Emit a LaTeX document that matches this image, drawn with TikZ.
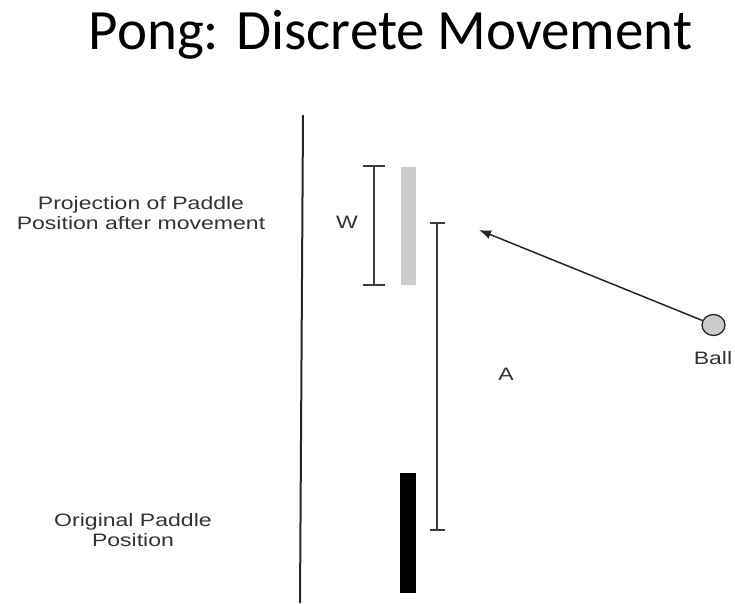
\documentclass[tikz,border=0pt]{standalone}
\usepackage{fontspec}
\usepackage{graphicx}
\setmainfont{Liberation Sans}
\newfontfamily\titlefont{Carlito}
\usetikzlibrary{arrows.meta,shapes.geometric}
\definecolor{paddlegray}{RGB}{204,204,204}
\definecolor{linegray}{RGB}{60,60,60}
\newcommand{\wide}[1]{\scalebox{1.28}[1]{#1}}
\begin{document}
\begin{tikzpicture}[x=1pt,y=-1pt,
  lbl/.style={font=\fontsize{18}{20}\selectfont, text=black!80, inner sep=0pt, align=center},
  dimline/.style={draw=linegray, line width=1.6pt},
  wallline/.style={draw=black!85, line width=2pt},
  paddlebox/.style={draw=none, inner sep=0pt, minimum width=15.5, rectangle},
  ballshape/.style={ellipse, draw=black!85, line width=1.3pt, fill=paddlegray, minimum width=23, minimum height=21, inner sep=0pt},
  motion/.style={draw=black!85, line width=1.5pt, -{Latex[length=12pt,width=9pt]}}]
\useasboundingbox (0,0) rectangle (735,603);
% title
\node[font=\titlefont\fontsize{57}{60}\selectfont, anchor=base, inner sep=0pt] (title) at (390.5,49) {Pong: Discrete Movement};
% wall
\coordinate (walltop) at (303,115);
\coordinate (wallbot) at (300,603);
\draw[wallline] (walltop) -- (wallbot);
% paddles
\node[paddlebox, fill=paddlegray, minimum height=118] (proj) at (408.5,226) {};
\node[paddlebox, fill=black, minimum height=120] (orig) at (408,533) {};
% W bracket
\coordinate (wt) at (374,166);
\coordinate (wb) at (374,285);
\draw[dimline] (wt) -- (wb);
\draw[dimline] ([xshift=-11pt]wt) -- ([xshift=11pt]wt);
\draw[dimline] ([xshift=-11pt]wb) -- ([xshift=11pt]wb);
\node[lbl] (wlabel) at (347,222.5) {\wide{W}};
% A bracket
\coordinate (at) at (437,223);
\coordinate (ab) at (437,530);
\draw[dimline] (at) -- (ab);
\draw[dimline] ([xshift=-7.5pt]at) -- ([xshift=7.5pt]at);
\draw[dimline] ([xshift=-7.5pt]ab) -- ([xshift=7.5pt]ab);
\node[lbl] (alabel) at (506,374) {\wide{A}};
% ball
\node[ballshape] (ball) at (713.5,325) {};
\node[lbl] (balllabel) at (713,358.5) {\wide{Ball}};
\coordinate (aim) at (479,230);
\draw[motion] (ball) -- (aim);
% labels
\node[lbl] (projlabel) at (141,213) {\wide{Projection of Paddle}\\\wide{Position after movement}};
\node[lbl] (origlabel) at (133,530.5) {\wide{Original Paddle}\\\wide{Position}};
\end{tikzpicture}
\end{document}
